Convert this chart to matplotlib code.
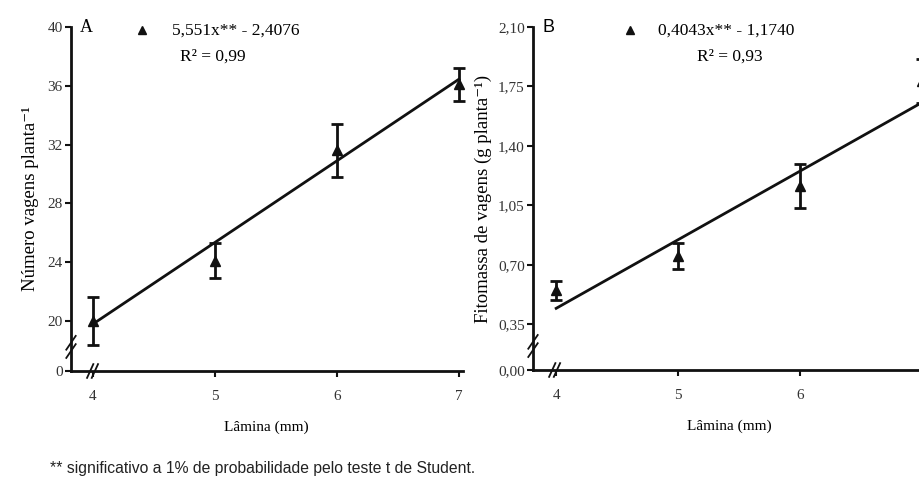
import matplotlib
matplotlib.use("Agg")
import matplotlib.pyplot as plt
import numpy as np

# ---- data ----
lamina = [4, 5, 6, 7]
xticks = [4, 5, 6, 7]

num_vagens = [20.0, 24.1, 31.6, 36.1]
num_vagens_err = [1.65, 1.2, 1.8, 1.1]
coef_a = (5.551, -2.4076)
yticks_a = [16.6, 20, 24, 28, 32, 36, 40]
yticklabels_a = ["0", "20", "24", "28", "32", "36", "40"]

fitomassa = [0.55, 0.75, 1.165, 1.78]
fitomassa_err = [0.055, 0.075, 0.13, 0.13]
coef_b = (0.4043, -1.1740)
yticks_b = [0.08, 0.35, 0.70, 1.05, 1.40, 1.75, 2.10]
yticklabels_b = ["0,00", "0,35", "0,70", "1,05", "1,40", "1,75", "2,10"]

eq_a = "5,551x** - 2,4076"
r2_a = "R² = 0,99"
eq_b = "0,4043x** - 1,1740"
r2_b = "R² = 0,93"

SERIF = ["Liberation Serif", "DejaVu Serif"]
plt.rcParams["font.family"] = SERIF

W, H = 920, 478
fig = plt.figure(figsize=(W / 100, H / 100), dpi=100)


def make_axes(left_px, bottom_px, top_px, xlim):
    width_px = (xlim[1] - xlim[0]) * 122.0
    return fig.add_axes([left_px / W, 1 - bottom_px / H, width_px / W,
                         (bottom_px - top_px) / H])


def style(ax, xlim, ylim, yt, ytl):
    ax.set_xlim(*xlim)
    ax.set_ylim(*ylim)
    for s in ("top", "right"):
        ax.spines[s].set_visible(False)
    for s in ("left", "bottom"):
        ax.spines[s].set_linewidth(2.0)
        ax.spines[s].set_color("#111111")
    ax.set_xticks(xticks)
    ax.set_xticklabels([str(v) for v in xticks])
    ax.set_yticks(yt)
    ax.set_yticklabels(ytl)
    ax.tick_params(axis="both", direction="out", length=4, width=1.5,
                   labelsize=11, colors="#111111", labelcolor="#333333")
    ax.tick_params(axis="x", pad=10)
    ax.tick_params(axis="y", pad=2)
    # axis break marks
    for dy in (-0.012, 0.012):
        ax.plot([-0.012, 0.012], [0.07 + dy - 0.02, 0.07 + dy + 0.02],
                transform=ax.transAxes, color="#111111", lw=1.3, clip_on=False)
    for dx in (-0.006, 0.006):
        ax.plot([0.055 + dx - 0.008, 0.055 + dx + 0.008], [-0.02, 0.02],
                transform=ax.transAxes, color="#111111", lw=1.3, clip_on=False)


def draw(ax, y, yerr, coef):
    xs = np.array([lamina[0], lamina[-1]], dtype=float)
    ax.plot(xs, coef[0] * xs + coef[1], color="#111111", lw=2.0, zorder=2)
    ax.errorbar(lamina, y, yerr=yerr, fmt="^", color="#111111", ms=7,
                ecolor="#111111", elinewidth=2.0, capsize=4, capthick=2.0,
                zorder=3, clip_on=False)


# Panel A
xlim_a = (3.82, 7.03)
axA = make_axes(71, 371, 27, xlim_a)
style(axA, xlim_a, (16.6, 40), yticks_a, yticklabels_a)
draw(axA, num_vagens, num_vagens_err, coef_a)
axA.set_ylabel("Número vagens planta⁻¹", fontsize=13.5, labelpad=6)
axA.set_xlabel("Lâmina (mm)", fontsize=11, labelpad=12)
axA.text(0.022, 1.0, "A", transform=axA.transAxes, fontsize=13, va="center", ha="left")
axA.plot([0.181], [0.99], marker="^", color="#111111", ms=6, transform=axA.transAxes,
         clip_on=False)
axA.text(0.258, 0.99, eq_a, transform=axA.transAxes, fontsize=12.5, va="center", ha="left")
axA.text(0.278, 0.913, r2_a, transform=axA.transAxes, fontsize=12.5, va="center", ha="left")

# Panel B
xlim_b = (3.81, 7.03)
axB = make_axes(533, 370, 27, xlim_b)
style(axB, xlim_b, (0.08, 2.10), yticks_b, yticklabels_b)
draw(axB, fitomassa, fitomassa_err, coef_b)
axB.set_ylabel("Fitomassa de vagens (g planta⁻¹)", fontsize=13.5, labelpad=4)
axB.set_xlabel("Lâmina (mm)", fontsize=11, labelpad=12)
axB.text(0.023, 1.0, "B", transform=axB.transAxes, fontsize=13, va="center", ha="left",
         family=["Liberation Sans", "DejaVu Sans"])
axB.plot([0.247], [0.99], marker="^", color="#111111", ms=6, transform=axB.transAxes,
         clip_on=False)
axB.text(0.318, 0.99, eq_b, transform=axB.transAxes, fontsize=12.5, va="center", ha="left")
axB.text(0.50, 0.913, r2_b, transform=axB.transAxes, fontsize=12.5, va="center", ha="center")

fig.text(50 / W, 1 - 468 / H, "** significativo a 1% de probabilidade pelo teste t de Student.",
         fontsize=11.3, family=["Liberation Sans", "DejaVu Sans"], color="#222222",
         va="center", ha="left")

fig.savefig("out.png", dpi=100)
